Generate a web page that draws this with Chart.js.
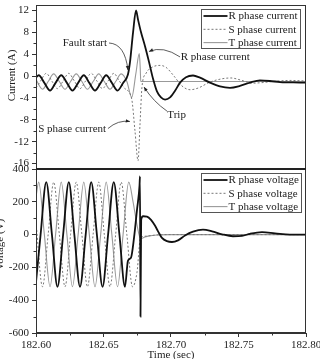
<!DOCTYPE html>
<html><head><meta charset="utf-8">
<script src="https://cdn.jsdelivr.net/npm/chart.js@4.4.0/dist/chart.umd.min.js"></script>
<style>html,body{margin:0;padding:0;background:#fff;}#wrap{width:320px;height:359px;}</style>
</head><body><div id="wrap"><canvas id="c" width="320" height="359"></canvas></div>
<script>
// ---------- data ----------
const rCurT = [182.6000,182.6020,182.6062,182.6104,182.6145,182.6187,182.6229,182.6270,182.6312,182.6354,182.6395,182.6437,182.6479,182.6520,182.6562,182.6604,182.6645,182.6681,182.6696,182.6719,182.6741,182.6756,182.6778,182.6807,182.6837,182.6867,182.6896,182.6926,182.6956,182.6993,182.7030,182.7067,182.7111,182.7163,182.7215,182.7289,182.7363,182.7437,182.7511,182.7585,182.7659,182.7733,182.7807,182.7881,182.7956,182.8000];
const rCurV = [-0.25,0.15,-1.25,-2.65,-1.25,0.15,-1.25,-2.65,-1.25,0.15,-1.25,-2.65,-1.25,0.15,-1.25,-2.65,-1.25,0.3,2.5,8.0,12.0,10.3,8.0,5.5,2.6,-0.5,-2.8,-3.9,-4.3,-3.9,-2.7,-1.2,-0.2,0.1,-0.3,-1.2,-1.9,-2.15,-1.8,-1.2,-0.8,-0.9,-1.1,-1.15,-1.2,-1.2];

const sCurT = [182.6000,182.6034,182.6076,182.6117,182.6159,182.6201,182.6242,182.6284,182.6326,182.6367,182.6409,182.6451,182.6492,182.6534,182.6576,182.6617,182.6659,182.6709,182.6733,182.6756,182.6770,182.6785,182.6815,182.6859,182.6919,182.6963,182.7022,182.7081,182.7141,182.7200,182.7289,182.7378,182.7444,182.7526,182.7600,182.7674,182.7770,182.7881,182.8000];
const sCurV = [-2.2,-0.9,0.5,-0.9,-2.3,-0.9,0.5,-0.9,-2.3,-0.9,0.5,-0.9,-2.3,-0.9,0.5,-0.9,-2.3,-4.2,-10.0,-15.5,-9.0,-2.0,0.5,1.6,1.95,1.6,0.0,-1.8,-2.5,-2.2,-1.1,-0.5,-0.35,-0.8,-1.3,-1.2,-0.95,-0.8,-0.9];

const tCurT = [182.6000,182.6048,182.6090,182.6131,182.6173,182.6215,182.6256,182.6298,182.6340,182.6381,182.6423,182.6465,182.6506,182.6548,182.6590,182.6631,182.6673,182.6709,182.6740,182.6765,182.6772,182.6776,182.8000];
const tCurV = [-0.65,-2.4,-1.0,0.4,-1.0,-2.4,-1.0,0.4,-1.0,-2.4,-1.0,0.4,-1.0,-2.4,-1.0,0.4,-1.0,-3.9,0.5,4.1,1.5,-1.0,-1.0];

const rVolT = [182.6000,182.6034,182.6076,182.6118,182.6159,182.6201,182.6243,182.6284,182.6326,182.6368,182.6409,182.6451,182.6493,182.6534,182.6576,182.6618,182.6659,182.6681,182.6704,182.6726,182.6748,182.6767,182.6770,182.6774,182.6779,182.6793,182.6822,182.6852,182.6881,182.6904,182.6933,182.6970,182.7007,182.7052,182.7104,182.7163,182.7237,182.7304,182.7378,182.7459,182.7526,182.7585,182.7674,182.7770,182.7881,182.8000];
const rVolV = [-290,0,320,0,-318,0,320,0,-318,0,320,0,-318,0,320,0,-318,-160,-140,-20,150,300,355,-500,90,112,110,90,55,20,-20,-40,-45,-35,-5,18,30,20,2,-10,-8,5,15,8,0,0];

const sVolT = [182.6000,182.6048,182.6090,182.6131,182.6173,182.6215,182.6256,182.6298,182.6340,182.6381,182.6423,182.6465,182.6506,182.6548,182.6590,182.6631,182.6673,182.6715,182.6748,182.6774,182.6807,182.6896,182.6993,182.8000];
const sVolV = [77,-318,0,320,0,-318,0,320,0,-318,0,320,0,-318,0,320,0,-318,-230,-20,-10,-2,0,0];

const tVolT = [182.6000,182.6020,182.6062,182.6104,182.6145,182.6187,182.6229,182.6270,182.6312,182.6354,182.6395,182.6437,182.6479,182.6520,182.6562,182.6604,182.6645,182.6687,182.6719,182.6748,182.6774,182.6807,182.6837,182.6896,182.6993,182.8000];
const tVolV = [230,320,0,-318,0,320,0,-318,0,320,0,-318,0,320,0,-318,0,320,200,60,-25,-15,-8,-2,0,0];

const timeTicks = [182.60,182.65,182.70,182.75,182.80];
const timeMinor = [182.625,182.675,182.725,182.775];
const currentTicks = [-16,-12,-8,-4,0,4,8,12];
const currentMinor = [-14,-10,-6,-2,2,6,10];
const voltageTicks = [-600,-400,-200,0,200,400];
const voltageMinor = [-500,-300,-100,100,300];

// ---------- annotations (data coordinates on the current panel) ----------
const notes = [
  {text:'Fault start', tx:182.6526, tv:6.1, align:'right', from:[182.6541,6.05], ctrl:[182.6659,5.9], to:[182.6681,1.1]},
  {text:'S phase current', tx:182.6519, tv:-9.7, align:'right', from:[182.6533,-9.6], ctrl:[182.6607,-8.0], to:[182.6696,-8.3]},
  {text:'R phase current', tx:182.7072, tv:3.45, align:'left', from:[182.7067,3.5], ctrl:[182.6941,5.6], to:[182.6837,4.5]},
  {text:'Trip', tx:182.6973, tv:-7.1, align:'left', from:[182.6970,-6.4], ctrl:[182.6870,-4.7], to:[182.6800,-2.0]}
];
// axis titles: value at which the title is centred on its panel
const yTitles = [
  {axis:'yI', text:'Current (A)', at:0.1, x:12},
  {axis:'yV', text:'Voltage (V)', at:-60, x:0.5}
];

const SERIF = "'Liberation Serif', 'Times New Roman', serif";
const pts = (ts, vs) => ts.map((t, i) => ({x: t, y: vs[i]}));

const R_STYLE = {borderColor:'#111', borderWidth:1.8};
const S_STYLE = {borderColor:'#777', borderWidth:1, borderDash:[2,2]};
const T_STYLE = {borderColor:'#999', borderWidth:1.1};

const decor = {
  id: 'decor',
  afterDraw(chart) {
    const ctx = chart.ctx, ca = chart.chartArea;
    const xs = chart.scales.x, yI = chart.scales.yI, yV = chart.scales.yV;
    const line = (x1, y1, x2, y2) => { ctx.beginPath(); ctx.moveTo(x1, y1); ctx.lineTo(x2, y2); ctx.stroke(); };
    ctx.save();
    // frames
    ctx.strokeStyle = '#333'; ctx.lineWidth = 1;
    [yI, yV].forEach(s => ctx.strokeRect(ca.left + 0.5, s.top + 0.5, ca.right - ca.left - 1, s.bottom - s.top - 1));
    ctx.lineWidth = 2; ctx.strokeStyle = '#222';
    line(ca.left, yI.bottom, ca.right, yI.bottom);
    // minor ticks
    ctx.lineWidth = 1; ctx.strokeStyle = '#333';
    currentMinor.forEach(v => { const p = Math.round(yI.getPixelForValue(v)) + 0.5; line(ca.left - 2.5, p, ca.left, p); });
    voltageMinor.forEach(v => { const p = Math.round(yV.getPixelForValue(v)) + 0.5; line(ca.left - 2.5, p, ca.left, p); });
    timeMinor.forEach(v => { const p = Math.round(xs.getPixelForValue(v)) + 0.5; line(p, ca.bottom, p, ca.bottom + 2.5); });
    ctx.font = '11px ' + SERIF;
    // y axis titles
    yTitles.forEach(t => {
      const py = chart.scales[t.axis].getPixelForValue(t.at);
      ctx.save(); ctx.translate(t.x, py); ctx.rotate(-Math.PI / 2);
      ctx.fillStyle = '#222'; ctx.textAlign = 'center'; ctx.textBaseline = 'middle';
      ctx.fillText(t.text, 0, 0); ctx.restore();
    });
    // legends
    const legend = (scale, axisId) => {
      const items = chart.data.datasets.filter(d => d.yAxisID === axisId);
      const tw = Math.max(...items.map(d => ctx.measureText(d.label).width));
      const left = Math.round(ca.right - 105) + 0.5, top = Math.round(scale.top + 3.5) + 0.5;
      const w = Math.round(27 + tw + 3), h = 39;
      ctx.fillStyle = '#fff'; ctx.fillRect(left, top, w, h);
      ctx.strokeStyle = '#555'; ctx.lineWidth = 1; ctx.setLineDash([]); ctx.strokeRect(left, top, w, h);
      items.forEach((d, i) => {
        const yy = top + 6.5 + i * 13.3;
        ctx.strokeStyle = d.borderColor; ctx.lineWidth = d.borderWidth; ctx.setLineDash(d.borderDash || []);
        line(left + 2, yy, left + 26, yy);
        ctx.setLineDash([]);
        ctx.fillStyle = '#222'; ctx.textAlign = 'left'; ctx.textBaseline = 'middle';
        ctx.fillText(d.label, left + 27, yy + 0.5);
      });
    };
    legend(yI, 'yI');
    legend(yV, 'yV');
    // annotations
    ctx.setLineDash([]);
    notes.forEach(n => {
      ctx.fillStyle = '#222'; ctx.textAlign = n.align; ctx.textBaseline = 'middle';
      ctx.fillText(n.text, xs.getPixelForValue(n.tx), yI.getPixelForValue(n.tv));
      const P = a => [xs.getPixelForValue(a[0]), yI.getPixelForValue(a[1])];
      const a = P(n.from), c = P(n.ctrl), b = P(n.to);
      ctx.strokeStyle = '#333'; ctx.lineWidth = 0.8;
      ctx.beginPath(); ctx.moveTo(a[0], a[1]); ctx.quadraticCurveTo(c[0], c[1], b[0], b[1]); ctx.stroke();
      const ang = Math.atan2(b[1] - c[1], b[0] - c[0]);
      ctx.fillStyle = '#222';
      ctx.beginPath();
      ctx.moveTo(b[0], b[1]);
      ctx.lineTo(b[0] - 4.5 * Math.cos(ang - 0.4), b[1] - 4.5 * Math.sin(ang - 0.4));
      ctx.lineTo(b[0] - 4.5 * Math.cos(ang + 0.4), b[1] - 4.5 * Math.sin(ang + 0.4));
      ctx.closePath(); ctx.fill();
    });
    ctx.restore();
  }
};

const tickFont = {family: SERIF, size: 11};
const yCommon = {
  type: 'linear', position: 'left', stack: 'panels', stackWeight: 1,
  grid: {drawOnChartArea: false, drawTicks: true, tickLength: 4, tickColor: '#333'},
  border: {display: true, color: '#333'},
  ticks: {font: tickFont, color: '#222', padding: 3, autoSkip: false, callback: v => String(v)},
};

new Chart(document.getElementById('c'), {
  type: 'line',
  data: {datasets: [
    Object.assign({label: 'R phase current', data: pts(rCurT, rCurV), yAxisID: 'yI'}, R_STYLE),
    Object.assign({label: 'S phase current', data: pts(sCurT, sCurV), yAxisID: 'yI'}, S_STYLE),
    Object.assign({label: 'T phase current', data: pts(tCurT, tCurV), yAxisID: 'yI'}, T_STYLE),
    Object.assign({label: 'R phase voltage', data: pts(rVolT, rVolV), yAxisID: 'yV'}, R_STYLE),
    Object.assign({label: 'S phase voltage', data: pts(sVolT, sVolV), yAxisID: 'yV'}, S_STYLE),
    Object.assign({label: 'T phase voltage', data: pts(tVolT, tVolV), yAxisID: 'yV'}, T_STYLE)
  ]},
  options: {
    responsive: false, animation: false, devicePixelRatio: 1,
    layout: {padding: {left: 0, right: 14, top: 5, bottom: 0}},
    elements: {point: {radius: 0}, line: {cubicInterpolationMode: 'monotone', fill: false}},
    plugins: {legend: {display: false}, tooltip: {enabled: false}},
    scales: {
      x: {
        type: 'linear', position: 'bottom', min: 182.6, max: 182.8,
        grid: {drawOnChartArea: false, drawTicks: true, tickLength: 4, tickColor: '#333'},
        border: {display: true, color: '#333'},
        ticks: {font: tickFont, color: '#222', padding: 2, maxRotation: 0, autoSkip: false, callback: v => Number(v).toFixed(2)},
        afterBuildTicks: s => { s.ticks = timeTicks.map(v => ({value: v})); },
        afterFit: s => { s.height = 26; s.paddingLeft = 0; s.paddingRight = 0; },
        title: {display: true, text: 'Time (sec)', font: tickFont, color: '#222', padding: {top: 0, bottom: -3}}
      },
      yV: Object.assign({}, yCommon, {
        weight: 1, min: -600, max: 400,
        afterBuildTicks: s => { s.ticks = voltageTicks.map(v => ({value: v})); },
        afterFit: s => { s.width = 36; s.paddingTop = 0; s.paddingBottom = 0; }
      }),
      yI: Object.assign({}, yCommon, {
        weight: 2, min: -17, max: 13,
        afterBuildTicks: s => { s.ticks = currentTicks.map(v => ({value: v})); },
        afterFit: s => { s.width = 36; s.paddingTop = 0; s.paddingBottom = 0; }
      })
    }
  },
  plugins: [decor]
});
</script></body></html>
